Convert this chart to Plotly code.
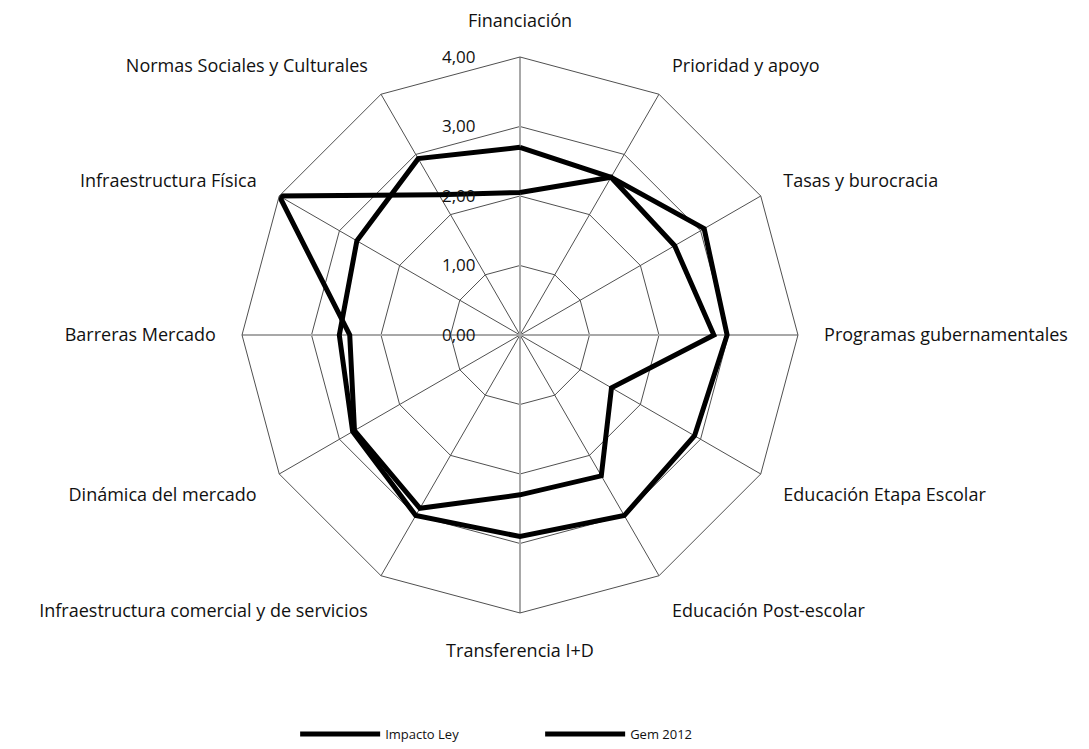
import plotly.graph_objects as go

# Framework conditions (clockwise from the top)
categories = [
    "Financiación",
    "Prioridad y apoyo",
    "Tasas y burocracia",
    "Programas gubernamentales",
    "Educación Etapa Escolar",
    "Educación Post-escolar",
    "Transferencia I+D",
    "Infraestructura comercial y de servicios",
    "Dinámica del mercado",
    "Barreras Mercado",
    "Infraestructura Física",
    "Normas Sociales y Culturales",
]

impacto_ley = [2.70, 2.62, 3.06, 2.98, 2.90, 3.00, 2.90, 3.00, 2.78, 2.60, 2.71, 2.93]
gem_2012 = [2.05, 2.62, 2.57, 2.79, 1.52, 2.34, 2.30, 2.88, 2.75, 2.45, 4.00, 2.33]

radial_ticks = [0, 1, 2, 3, 4]
radial_labels = ["0,00", "1,00", "2,00", "3,00", "4,00"]

FONT = "Open Sans, Lato, sans-serif"
r_max = radial_ticks[-1]


def closed(values):
    return list(values) + [values[0]]


fig = go.Figure()

# light grey cross through the centre (vertical and horizontal axes)
half = len(categories) // 2
quarter = len(categories) // 4
for a, b in [(0, half), (quarter, quarter + half)]:
    fig.add_trace(go.Scatterpolar(
        r=[r_max, 0, r_max],
        theta=[categories[a], categories[a], categories[b]],
        mode="lines",
        line=dict(color="#a8a8a8", width=2),
        hoverinfo="skip",
        showlegend=False,
    ))

for name, vals in [("Impacto Ley", impacto_ley), ("Gem 2012", gem_2012)]:
    fig.add_trace(go.Scatterpolar(
        r=closed(vals),
        theta=closed(categories),
        mode="lines",
        name=name,
        line=dict(color="black", width=5),
    ))

fig.update_layout(
    width=1089,
    height=749,
    paper_bgcolor="white",
    plot_bgcolor="white",
    margin=dict(l=0, r=0, t=0, b=0),
    font=dict(family=FONT, size=17, color="#111"),
    polar=dict(
        bgcolor="white",
        gridshape="linear",
        domain=dict(x=[0.2222, 0.7328], y=[0.1816, 0.9239]),
        angularaxis=dict(
            categoryorder="array",
            categoryarray=categories,
            rotation=90,
            direction="clockwise",
            gridcolor="#505050",
            gridwidth=1,
            showline=True,
            linecolor="#505050",
            linewidth=1,
            ticks="outside",
            ticklen=22,
            tickcolor="rgba(0,0,0,0)",
            tickfont=dict(family=FONT, size=18, color="#111"),
        ),
        radialaxis=dict(
            range=[0, r_max],
            tickvals=radial_ticks,
            ticktext=radial_labels,
            angle=90,
            tickangle=90,
            side="counterclockwise",
            showline=False,
            gridcolor="#505050",
            gridwidth=1,
            ticks="outside",
            ticklen=38,
            tickcolor="rgba(0,0,0,0)",
            tickfont=dict(family=FONT, size=17, color="#111"),
        ),
    ),
    legend=dict(
        orientation="h",
        x=0.496,
        xanchor="center",
        y=0.0,
        yanchor="bottom",
        font=dict(family=FONT, size=13, color="#111"),
        itemwidth=80,
        entrywidth=150,
    ),
)

fig.write_html("out.html")
